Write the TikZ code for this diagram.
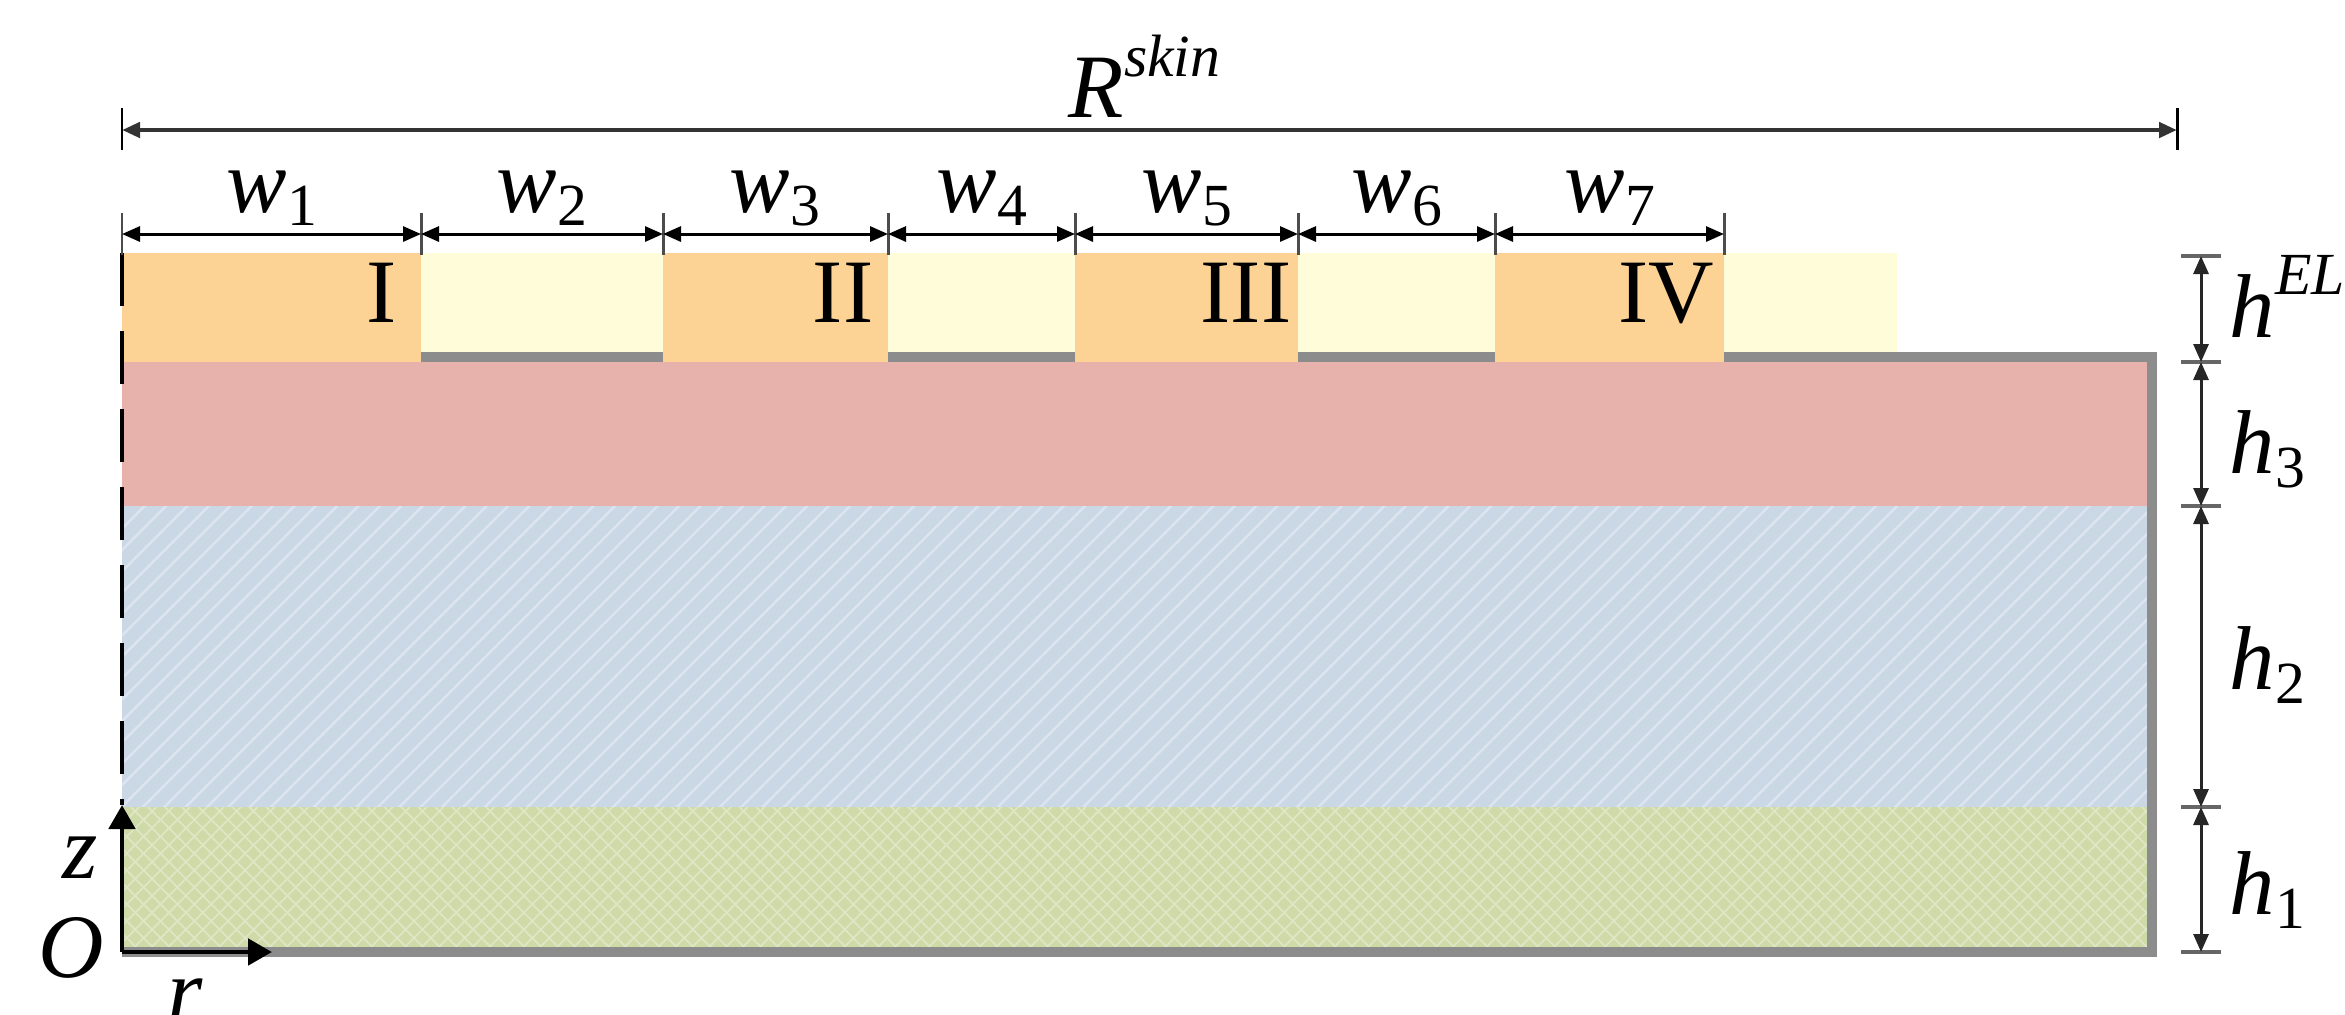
\documentclass[tikz,border=0pt]{standalone}
\usepackage{fontspec}
\setmainfont{Liberation Serif}
\usetikzlibrary{arrows.meta,patterns.meta}
\definecolor{orangeEL}{HTML}{FDD295}
\definecolor{yellowEL}{HTML}{FFFDD9}
\definecolor{redL}{HTML}{E8B2AC}
\definecolor{blueL}{HTML}{CAD7E5}
\definecolor{blueLine}{HTML}{DCE5EF}
\definecolor{greenL}{HTML}{CFDAA9}
\definecolor{greenLine}{HTML}{DEE6C4}
\definecolor{borderG}{HTML}{8C8C8C}
\newcommand{\figfont}{\fontsize{25.8pt}{30pt}\selectfont}
\newcommand{\subsym}[3][3.7pt]{\textit{#2}\raisebox{-#1}{\fontsize{17pt}{18pt}\selectfont #3}}
\newcommand{\supsym}[3][11.4pt]{\textit{#2}\raisebox{#1}{\fontsize{17pt}{18pt}\selectfont\textit{#3}}}
\tikzset{
  lab/.style={inner sep=0pt, font=\figfont},
  elecbox/.style={fill=orangeEL},
  gapbox/.style={fill=yellowEL},
  bodyline/.style={draw=borderG, line width=2.85pt, line join=miter},
  tickline/.style={draw=black!70, line width=0.85pt},
  dimarrow/.style={{Triangle[length=1.8mm,width=1.5mm]}-{Triangle[length=1.8mm,width=1.5mm]}, line width=0.85pt},
  axisarrow/.style={-{Triangle[length=2.4mm,width=2.6mm]}, line width=1.4pt},
}
\begin{document}
\begin{tikzpicture}[x=0.1mm,y=-0.1mm]
\useasboundingbox (0,0) rectangle (2345,1014);
% layers
\fill[redL] (122,357) rectangle (2152,506);
\fill[blueL] (122,506) rectangle (2152,807);
\fill[pattern={Lines[angle=45,distance=4.3pt,line width=0.7pt]}, pattern color=blueLine] (122,506) rectangle (2152,807);
\fill[greenL] (122,807) rectangle (2152,952);
\fill[pattern={Lines[angle=45,distance=3.4pt,line width=0.5pt]}, pattern color=greenLine] (122,807) rectangle (2152,952);
\fill[pattern={Lines[angle=-45,distance=3.4pt,line width=0.5pt]}, pattern color=greenLine] (122,807) rectangle (2152,952);
\draw[bodyline] (122,357) -- (2152,357) -- (2152,952) -- (122,952);
% electrode layer
\fill[gapbox] (421,253) rectangle (663,352);
\fill[gapbox] (888,253) rectangle (1075,352);
\fill[gapbox] (1298,253) rectangle (1495,352);
\fill[gapbox] (1724,253) rectangle (1897,352);
\fill[elecbox] (122,253) rectangle (421,362);
\fill[elecbox] (663,253) rectangle (888,362);
\fill[elecbox] (1075,253) rectangle (1298,362);
\fill[elecbox] (1495,253) rectangle (1724,362);
\node[lab] (e1) at (382,293) {I};
\node[lab] (e2) at (843,293) {II};
\node[lab] (e3) at (1246,293) {III};
\node[lab] (e4) at (1666,293) {IV};
% symmetry axis
\draw[black, line width=1.4pt, dash pattern=on 5.3mm off 2.5mm] (122,253) -- (122,805);
% axes
\coordinate (O) at (122,952);
\coordinate (zend) at (122,805);
\coordinate (rend) at (272,952);
\draw[axisarrow] (O) -- (zend);
\draw[axisarrow] (O) -- (rend);
\node[lab] (lz) at (80,858) {\textit{z}};
\node[lab] (lO) at (71,948) {\textit{O}};
\node[lab] (lr) at (185,1000) {\textit{r}};
% R skin
\coordinate (Ra) at (122,130);
\coordinate (Rb) at (2177,130);
\draw[tickline, black] (122,108) -- (122,150);
\draw[tickline, black] (2177,108) -- (2177,150);
\draw[dimarrow, draw=black!80, line width=1.3pt] (Ra) -- (Rb);
\node[lab, anchor=base west] (lR) at (1068,117) {\supsym{R}{skin}};
% w dimensions
\foreach \i/\x in {0/122,1/421,2/663,3/888,4/1075,5/1298,6/1495,7/1724}{
  \coordinate (w\i) at (\x,234);
  \draw[tickline] (\x,213) -- (\x,255);
}
\foreach \a/\b/\n/\m in {0/1/1/272,1/2/2/542,2/3/3/775,3/4/4/982,4/5/5/1187,5/6/6/1397,6/7/7/1610}{
  \draw[dimarrow] (w\a) -- (w\b);
  \node[lab, anchor=base] (lw\n) at (\m,212) {\subsym{w}{\n}};
}
% h dimensions
\foreach \i/\y in {0/256,1/362,2/506,3/807,4/952}{
  \coordinate (h\i) at (2201,\y);
  \draw[tickline, draw=black!60, line width=1.1pt] (2181,\y) -- (2221,\y);
}
\foreach \a/\b in {0/1,1/2,2/3,3/4}{
  \draw[dimarrow, draw=black!85] (h\a) -- (h\b);
}
\node[lab, anchor=base west] (lhEL) at (2229,337) {\supsym[12pt]{h}{EL}};
\node[lab, anchor=base west] (lh3) at (2229,473) {\subsym[4.2pt]{h}{3}};
\node[lab, anchor=base west] (lh2) at (2229,689) {\subsym[4.2pt]{h}{2}};
\node[lab, anchor=base west] (lh1) at (2229,914) {\subsym[4.2pt]{h}{1}};
\end{tikzpicture}
\end{document}
